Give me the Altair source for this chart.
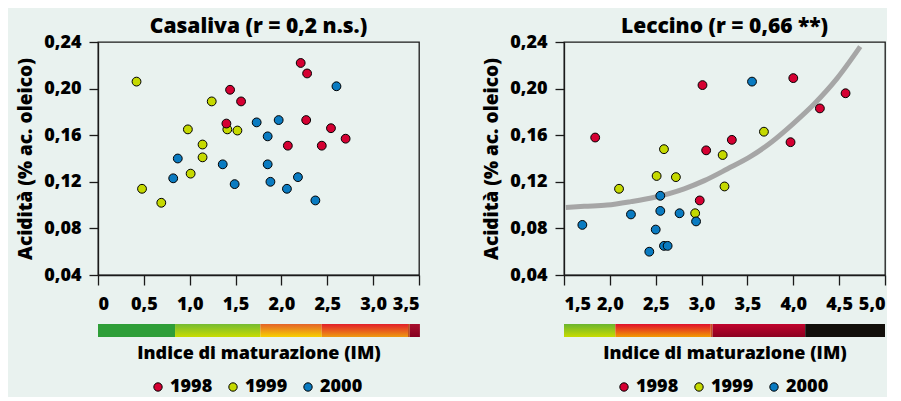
import altair as alt
import pandas as pd

# ---------------- data ----------------
years = ["1998", "1999", "2000"]

# Casaliva
cas_1998_im = [1.44, 1.40, 1.56, 2.21, 2.28, 2.27, 2.07, 2.44, 2.54, 2.70]
cas_1998_acid = [0.199, 0.170, 0.189, 0.222, 0.213, 0.173, 0.151, 0.151, 0.166, 0.157]
cas_1999_im = [0.42, 0.48, 0.69, 0.98, 1.01, 1.14, 1.14, 1.24, 1.41, 1.52]
cas_1999_acid = [0.206, 0.114, 0.102, 0.165, 0.127, 0.152, 0.141, 0.189, 0.165, 0.164]
cas_2000_im = [0.87, 0.82, 1.36, 1.49, 1.73, 1.85, 1.97, 1.85, 1.88, 2.06, 2.18, 2.37, 2.60]
cas_2000_acid = [0.140, 0.123, 0.135, 0.118, 0.171, 0.159, 0.173, 0.135, 0.120, 0.114, 0.124, 0.104, 0.202]

# Leccino
lec_1998_im = [1.84, 3.01, 3.05, 3.33, 2.98, 4.00, 3.97, 4.29, 4.57]
lec_1998_acid = [0.158, 0.203, 0.147, 0.156, 0.104, 0.209, 0.154, 0.183, 0.196]
lec_1999_im = [2.10, 2.51, 2.59, 2.72, 2.93, 3.23, 3.25, 3.68]
lec_1999_acid = [0.114, 0.125, 0.148, 0.124, 0.093, 0.143, 0.116, 0.163]
lec_2000_im = [1.70, 2.23, 2.43, 2.50, 2.55, 2.55, 2.59, 2.63, 2.76, 2.94, 3.55]
lec_2000_acid = [0.083, 0.092, 0.060, 0.079, 0.108, 0.095, 0.065, 0.065, 0.093, 0.086, 0.206]

# Leccino fitted curve
fit_im = [1.52, 1.72, 1.97, 2.23, 2.50, 2.81, 3.03, 3.28, 3.54, 3.76, 4.00, 4.23, 4.48, 4.73]
fit_acid = [0.098, 0.099, 0.100, 0.103, 0.107, 0.114, 0.121, 0.131, 0.142, 0.154, 0.170, 0.187, 0.209, 0.236]

# ripening-index colour bar class limits
cas_bar_start = [0.0, 0.84, 1.77, 2.44, 3.38, 3.40]
cas_bar_end = [0.84, 1.77, 2.44, 3.38, 3.40, 3.51]
lec_bar_start = [1.5, 2.06, 3.10, 3.12, 4.13]
lec_bar_end = [2.06, 3.10, 3.12, 4.13, 5.0]

cas_ticks = [0, 0.5, 1.0, 1.5, 2.0, 2.5, 3.0, 3.5]
lec_ticks = [1.5, 2.0, 2.5, 3.0, 3.5, 4.0, 4.5, 5.0]
acid_ticks = [0.04, 0.08, 0.12, 0.16, 0.20, 0.24]

# ---------------- styles ----------------
BG = "#E9F2EF"
FONT = "Open Sans"
WEIGHT = 800
year_colors = ["#D50032", "#C5D900", "#0A7BC1"]
cas_bar_colors = [("#2E9E38", "#2E9E38"), ("#74BB32", "#C8DC00"), ("#E4632A", "#F7D000"),
                  ("#E2202A", "#EE9A10"), ("#C05020", "#C05020"), ("#A8102C", "#860020")]
lec_bar_colors = [("#6AB52E", "#C8DC00"), ("#E0102C", "#F29A00"), ("#C85020", "#C85020"),
                  ("#C0042C", "#8C0020"), ("#120F0B", "#120F0B")]


def points_frame(im_lists, acid_lists):
    rows = []
    for idx in [1, 2, 0]:
        for a, b in zip(im_lists[idx], acid_lists[idx]):
            rows.append({"im": a, "acid": b, "anno": years[idx]})
    return pd.DataFrame(rows)


def panel(title, df, ticks, domain, bar_start, bar_end, bar_colors, curve=None):
    label_expr = ("datum.value == 0 ? '0' : replace(format(datum.value, '.1f'), '.', ',')")
    x_axis = alt.Axis(values=ticks, labelExpr=label_expr, title="Indice di maturazione (IM)",
                      titleFontSize=18, tickSize=10, labelPadding=10, titlePadding=31, grid=False)
    y_axis = alt.Axis(values=acid_ticks, labelExpr="replace(format(datum.value, '.2f'), '.', ',')",
                      title="Acidità (% ac. oleico)", tickSize=9, labelPadding=8,
                      titlePadding=8, grid=False)
    xs = alt.Scale(domain=domain, nice=False, zero=False)
    ys = alt.Scale(domain=[0.04, 0.24], nice=False, zero=False)

    layers = []
    for s, e, (c_top, c_bot) in zip(bar_start, bar_end, bar_colors):
        grad = alt.Gradient(gradient="linear",
                            stops=[alt.GradientStop(color=c_top, offset=0),
                                   alt.GradientStop(color=c_bot, offset=1)],
                            x1=0, x2=0, y1=0, y2=1)
        layers.append(
            alt.Chart(pd.DataFrame({"im": [s], "im_end": [e]}))
            .mark_rect(color=grad, clip=False)
            .encode(x=alt.X("im:Q", scale=xs, axis=x_axis), x2="im_end:Q",
                    y=alt.value(282), y2=alt.value(295))
        )
    if curve is not None:
        layers.append(
            alt.Chart(pd.DataFrame({"im": curve[0], "acid": curve[1]}))
            .mark_line(color="#A6A6A6", strokeWidth=5, interpolate="monotone", strokeCap="butt")
            .encode(x=alt.X("im:Q", scale=xs, axis=x_axis), y=alt.Y("acid:Q", scale=ys, axis=y_axis))
        )
    layers.append(
        alt.Chart(df).mark_circle(size=78, opacity=1, stroke="black", strokeWidth=1)
        .encode(
            x=alt.X("im:Q", scale=xs, axis=x_axis),
            y=alt.Y("acid:Q", scale=ys, axis=y_axis),
            color=alt.Color("anno:N", scale=alt.Scale(domain=years, range=year_colors),
                            legend=alt.Legend(orient="none", legendX=51, legendY=336,
                                              direction="horizontal", title=None,
                                              symbolType="circle", symbolSize=70,
                                              symbolStrokeColor="black", symbolStrokeWidth=1,
                                              symbolOpacity=1, labelFont=FONT, labelFontSize=18,
                                              labelFontWeight=WEIGHT, labelColor="black",
                                              labelOffset=3, columnPadding=11, padding=0)),
            order=alt.Order("ord:Q"),
        )
        .transform_calculate(ord="datum.anno == '1999' ? 0 : (datum.anno == '2000' ? 1 : 2)")
    )
    return alt.layer(*layers).properties(
        width=321, height=233,
        title=alt.TitleParams(title, fontSize=21, font=FONT, fontWeight=WEIGHT,
                              color="black", offset=-4, anchor="middle", frame="group"),
    )


cas_df = points_frame([cas_1998_im, cas_1999_im, cas_2000_im],
                      [cas_1998_acid, cas_1999_acid, cas_2000_acid])
lec_df = points_frame([lec_1998_im, lec_1999_im, lec_2000_im],
                      [lec_1998_acid, lec_1999_acid, lec_2000_acid])

left = panel("Casaliva (r = 0,2 n.s.)", cas_df, cas_ticks, [0, 3.5],
             cas_bar_start, cas_bar_end, cas_bar_colors)
right = panel("Leccino (r = 0,66 **)", lec_df, lec_ticks, [1.5, 5.0],
              lec_bar_start, lec_bar_end, lec_bar_colors, curve=(fit_im, fit_acid))

chart = (
    alt.hconcat(left, right, spacing=145, bounds="flush")
    .resolve_legend(color="independent")
    .properties(background=BG, padding={"left": 8, "top": 7, "right": 0, "bottom": 0})
    .configure_view(stroke="#1a1a1a", strokeWidth=1.3)
    .configure_axis(domainColor="#1a1a1a", domainWidth=1.3, tickColor="#1a1a1a", tickWidth=1.3,
                    labelFont=FONT, labelFontSize=18, labelFontWeight=WEIGHT, labelColor="black",
                    titleFont=FONT, titleFontSize=19, titleFontWeight=WEIGHT, titleColor="black")
)

chart.save("out.html", embed_options={"renderer": "svg", "actions": False})
